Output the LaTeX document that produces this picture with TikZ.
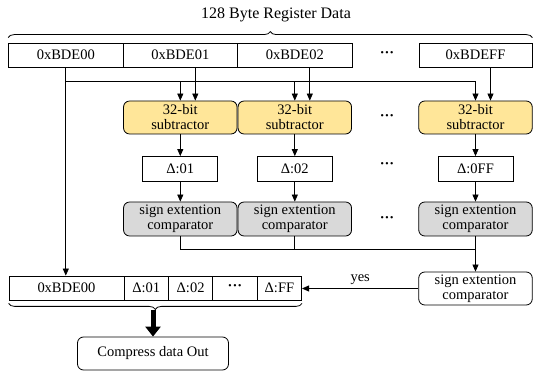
\documentclass[tikz,border=0pt]{standalone}
\usepackage{fontspec}
\setmainfont{Liberation Serif}
\usetikzlibrary{arrows.meta,positioning,calc,decorations.pathreplacing}
\definecolor{subfill}{RGB}{255,230,153}
\definecolor{cmpfill}{RGB}{217,217,217}
\newcommand{\gap}{\textbf{···}}
\begin{document}
\begin{tikzpicture}[x=1pt,y=-1pt,>={Triangle[length=7pt,width=6pt]},line width=0.8pt,on grid,
  every node/.append style={font=\fontsize{14.5}{15}\selectfont,inner sep=0pt},
  cell/.style={draw,minimum width=114.5pt,minimum height=24pt},
  sub/.style={draw,rounded corners=6pt,fill=subfill,minimum width=113.5pt,minimum height=33pt,align=center},
  delta/.style={draw,minimum width=75pt,minimum height=25pt},
  cmp/.style={draw,rounded corners=6pt,fill=cmpfill,minimum width=113.5pt,minimum height=34pt,align=center},
  small/.style={draw,minimum width=44.4pt,minimum height=24pt},
  brace/.style={decorate,decoration={brace,amplitude=6pt}},
  fat/.style={line width=5pt,-{Triangle[length=10pt,width=15pt]}}]
  \useasboundingbox (0,0) rectangle (533,371);
  \node[font=\fontsize{16}{18}\selectfont] (title) at (276,15) {128 Byte Register Data};
  \node[cell] (r0) at (65.8,55) {0xBDE00};
  \node[cell] (r1) [right=114.5pt of r0] {0xBDE01};
  \node[cell] (r2) [right=114.5pt of r1] {0xBDE02};
  \node (rdots) at (387,55) {\gap};
  \node[cell,minimum width=113pt] (rF) at (475.5,55) {0xBDEFF};
  \draw[brace] ([yshift=5pt]r0.north west) -- ([yshift=5pt]rF.north east);

  \node[sub] (s1) [below=62.5pt of r1] {32-bit\\subtractor};
  \node[sub] (s2) [below=62.5pt of r2] {32-bit\\subtractor};
  \node (sdots) at (387,118) {\gap};
  \node[sub] (sF) [below=62.5pt of rF] {32-bit\\subtractor};

  \node[delta] (d1) [below=51.5pt of s1] {Δ:01};
  \node[delta] (d2) [below=51.5pt of s2] {Δ:02};
  \node (ddots) at (387,166) {\gap};
  \node[delta] (dF) [below=51.5pt of sF] {Δ:0FF};

  \node[cmp] (c1) [below=50pt of d1] {sign extention\\comparator};
  \node[cmp] (c2) [below=50pt of d2] {sign extention\\comparator};
  \node (cdots) at (387,220) {\gap};
  \node[cmp] (cF) [below=50pt of dF] {sign extention\\comparator};
  \node[cmp,fill=white,minimum height=33pt] (cX) [below=69.5pt of cF] {sign extention\\comparator};

  \node[cell,minimum width=115pt] (o0) at (66.5,288) {0xBDE00};
  \node[small] (o1) [right=79.7pt of o0] {Δ:01};
  \node[small] (o2) [right=44.4pt of o1] {Δ:02};
  \node[small] (o3) [right=44.4pt of o2] {\gap};
  \node[small] (o4) [right=44.4pt of o3] {Δ:FF};
  \draw[brace,decoration={mirror}] ([yshift=-3pt]o0.south west) -- ([yshift=-3pt]o4.south east);
  \node[draw,rounded corners=6pt,minimum width=151pt,minimum height=33pt] (out) at (153,353.5) {Compress data Out};

  \coordinate (bus) at ($(r0.south)+(0,14.5)$);
  \coordinate (join) at ($(c1.south)+(0,13.5)$);
  \coordinate (btip) at ($(o0.south)+(0,10)$);
  \draw[->] (r0.south) -- (r0.south |- o0.north);
  \draw (r0.south |- bus) -- (sF.north |- bus);
  \foreach \s in {s1,s2,sF}
    \draw[->] (\s.north |- bus) -- (\s.north);
  \foreach \r/\s in {r1/s1,r2/s2,rF/sF}
    \draw[->] ([xshift=15pt]\r.south) -- ([xshift=15pt]\s.north);
  \foreach \s/\d/\c in {s1/d1/c1,s2/d2/c2,sF/dF/cF} {
    \draw[->] (\s) -- (\d);
    \draw[->] (\d) -- (\c);
  }
  \draw (c1.south) -- (c1.south |- join) -- (cF.south |- join);
  \draw (c2.south) -- (c2.south |- join);
  \draw[->] (cF.south) -- (cX.north);
  \draw[->] (cX.west) -- (cX.west -| o4.east) node[midway,above=3pt] {yes};
  \draw[fat] (out.north |- btip) -- (out.north);
\end{tikzpicture}
\end{document}
